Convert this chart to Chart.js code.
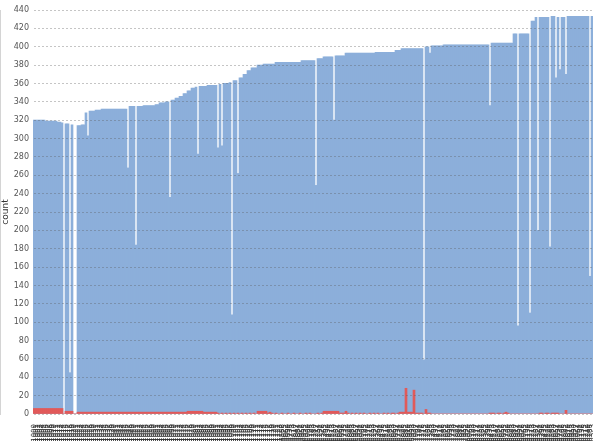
<!DOCTYPE html>
<html>
<head>
<meta charset="utf-8">
<script src="https://cdn.jsdelivr.net/npm/chart.js@4/dist/chart.umd.min.js"></script>
<style>
html,body{margin:0;padding:0;background:#fff;overflow:hidden;}
#wrap{width:593px;height:441px;position:relative;}
</style>
</head>
<body>
<div id="wrap"><canvas id="c"></canvas></div>
<script>
// total count per category (blue)
const totalCount = [
320,320,320,320,320,320,319,319,319,319,319,319,318,318,317,0,316,316,45,315,
0,0,314,314,315,315,328,303,330,330,330,331,331,331,332,332,332,332,332,332,
332,332,332,332,332,332,332,268,335,335,335,184,335,335,335,336,336,336,336,336,
336,337,337,339,339,339,340,340,236,342,342,344,344,346,346,349,349,352,352,355,
355,356,283,357,357,357,357,358,358,358,358,358,290,359,292,360,360,360,361,108,
363,363,262,366,366,370,370,374,374,377,377,377,380,380,380,381,381,381,381,381,
381,383,383,383,383,383,383,383,383,383,383,383,383,383,385,385,385,385,385,385,
385,249,387,387,387,389,389,389,389,389,320,390,390,390,390,390,393,393,393,393,
393,393,393,393,393,393,393,393,393,393,393,394,394,394,394,394,394,394,394,394,
394,396,396,396,398,398,398,398,398,398,398,398,398,398,398,59,400,400,393,401,
401,401,401,401,401,402,402,402,402,402,402,402,402,402,402,402,402,402,402,402,
402,402,402,402,402,402,402,402,336,404,404,404,404,404,404,404,404,404,404,404,
414,414,96,414,414,414,414,414,110,428,428,432,200,432,432,432,432,432,182,433,
433,366,432,375,432,432,370,433,433,433,433,433,433,433,433,433,433,433,150,433
];
// second series (red)
const redCount = [
6,6,6,6,6,6,6,6,6,6,6,6,6,6,6,0,3,3,3,3,
0,0,2,2,2,2,2,2,2,2,2,2,2,2,2,2,2,2,2,2,
2,2,2,2,2,2,2,2,2,2,2,2,2,2,2,2,2,2,2,2,
2,2,2,2,2,2,2,2,2,2,2,2,2,2,2,2,2,3,3,3,
3,3,3,3,3,2,2,2,2,2,2,2,1,0,1,0,1,0,1,0,
1,0,1,0,1,0,1,0,1,0,1,0,3,3,3,3,3,1,2,1,
0,1,0,0,1,0,0,1,0,0,1,0,0,1,0,0,1,0,1,0,
0,0,1,0,1,3,3,3,3,3,3,3,3,1,1,1,3,1,0,1,
0,1,0,1,0,1,0,0,1,0,1,0,1,0,0,1,0,1,0,1,
1,0,1,2,2,2,28,2,2,2,26,1,1,1,1,0,5,1,1,0,
0,0,0,0,0,0,0,0,0,0,0,0,0,0,0,0,0,0,0,0,
0,0,0,0,0,0,0,0,1,1,1,0,1,1,0,1,2,1,0,0,
0,0,0,0,0,0,0,0,0,0,0,0,0,1,1,0,1,1,0,1,
1,1,1,0,0,0,4,0,0,0,0,0,0,0,0,0,0,0,0,0
];
// category labels (illegible in the reference; short ids on the left, longer ids on the right)
const categoryLabels = totalCount.map((_, i) =>
  i < 124 ? ('n' + String(1000 + i)) : ('id_' + String(100000 + i * 37)));
const yTicks = [0,20,40,60,80,100,120,140,160,180,200,220,240,260,280,300,320,340,360,380,400,420,440];

new Chart(document.getElementById('c'), {
  type: 'bar',
  data: {
    labels: categoryLabels,
    datasets: [
      { label: 'red', data: redCount, backgroundColor: '#e15a5a', borderWidth: 0 },
      { label: 'count', data: totalCount, backgroundColor: '#8cafda', borderWidth: 0 }
    ]
  },
  options: {
    responsive: true,
    maintainAspectRatio: false,
    animation: false,
    layout: { padding: { top: 10, right: 0, left: 0, bottom: 0 } },
    datasets: { bar: { grouped: false, barPercentage: 1, categoryPercentage: 1 } },
    plugins: { legend: { display: false }, tooltip: { enabled: false } },
    scales: {
      x: {
        grid: { display: false },
        border: { display: false },
        ticks: {
          autoSkip: false, minRotation: 90, maxRotation: 90, padding: 2,
          font: { family: 'DejaVu Sans', size: 7 }, color: '#333'
        },
        afterFit: s => { s.height = 27; s.paddingLeft = 0; s.paddingRight = 0; }
      },
      y: {
        min: 0, max: 440,
        afterBuildTicks: s => { s.ticks = yTicks.map(v => ({ value: v })); },
        title: { display: true, text: 'count', font: { family: 'DejaVu Sans', size: 9 }, color: '#333', padding: 0 },
        grid: { color: 'rgba(90,90,90,0.35)', drawTicks: false, z: 1 },
        border: { display: true, color: '#aaa', dash: [2, 2] },
        ticks: { padding: 4, font: { family: 'DejaVu Sans', size: 8 }, color: '#555' },
        afterFit: s => { s.width = 33; }
      }
    }
  }
});
</script>
</body>
</html>
